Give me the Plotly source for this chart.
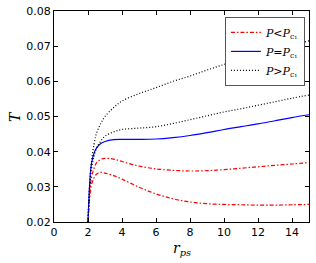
import plotly.graph_objects as go

r_ps = [2.0, 2.1, 2.2, 2.35, 2.5, 2.75, 3.0, 3.5, 4.0, 5.0, 6.0, 7.0, 8.0, 9.0, 10.0, 11.0, 12.0, 13.0, 14.0, 15.0]
T_eq = [0.020, 0.031, 0.0365, 0.0395, 0.0410, 0.0423, 0.0429, 0.0434, 0.0435, 0.0435, 0.0436, 0.0440, 0.0446, 0.0454, 0.0463, 0.0471, 0.0479, 0.0488, 0.0497, 0.0505]
T_gt_high = [0.020, 0.031, 0.037, 0.042, 0.0452, 0.0480, 0.0500, 0.0525, 0.0544, 0.0565, 0.0582, 0.0600, 0.0615, 0.0632, 0.0648, 0.0663, 0.0677, 0.0690, 0.0703, 0.0715]
T_gt_low = [0.020, 0.030, 0.035, 0.0385, 0.0410, 0.0430, 0.0444, 0.0456, 0.0463, 0.0467, 0.0471, 0.0480, 0.0491, 0.0502, 0.0513, 0.0522, 0.0532, 0.0542, 0.0552, 0.0561]
T_lt_high = [0.020, 0.028, 0.0325, 0.0352, 0.0368, 0.0378, 0.0381, 0.0379, 0.0372, 0.0359, 0.0351, 0.0347, 0.0345, 0.0346, 0.0349, 0.0353, 0.0357, 0.0361, 0.0365, 0.0369]
T_lt_low = [0.020, 0.027, 0.0305, 0.0325, 0.0336, 0.0341, 0.0339, 0.0332, 0.0322, 0.0299, 0.0280, 0.0266, 0.0257, 0.0252, 0.0250, 0.0249, 0.0248, 0.0248, 0.0249, 0.0250]

x_ticks = [0, 2, 4, 6, 8, 10, 12, 14]
y_ticks = [0.02, 0.03, 0.04, 0.05, 0.06, 0.07, 0.08]

lbl_lt = "<i>P</i><i>&lt;</i><i>P</i><sub>c₁</sub>"
lbl_eq = "<i>P</i>=<i>P</i><sub>c₁</sub>"
lbl_gt = "<i>P</i><i>&gt;</i><i>P</i><sub>c₁</sub>"

red_dash = "4px,2px,1.5px,2px"
fig = go.Figure()
fig.add_trace(go.Scatter(x=r_ps, y=T_lt_high, mode="lines", line=dict(color="red", width=1.2, dash=red_dash, shape="spline"), name=lbl_lt, legendgroup="lt"))
fig.add_trace(go.Scatter(x=r_ps, y=T_lt_low, mode="lines", line=dict(color="red", width=1.2, dash=red_dash, shape="spline"), name=lbl_lt, legendgroup="lt", showlegend=False))
fig.add_trace(go.Scatter(x=r_ps, y=T_eq, mode="lines", line=dict(color="blue", width=1.2, shape="spline"), name=lbl_eq))
fig.add_trace(go.Scatter(x=r_ps, y=T_gt_high, mode="lines", line=dict(color="black", width=1.2, dash="1px,2px", shape="spline"), name=lbl_gt, legendgroup="gt"))
fig.add_trace(go.Scatter(x=r_ps, y=T_gt_low, mode="lines", line=dict(color="black", width=1.2, dash="1px,2px", shape="spline"), name=lbl_gt, legendgroup="gt", showlegend=False))

axis_common = dict(showgrid=False, zeroline=False, showline=True, linecolor="black", linewidth=1,
                   mirror="ticks", ticks="inside", ticklen=4, tickcolor="black", automargin=False,
                   tickfont=dict(family="DejaVu Sans", size=11, color="black"))
fig.update_xaxes(range=[0, 15], tickvals=x_ticks, ticktext=[str(v) for v in x_ticks], **axis_common)
fig.update_yaxes(range=[0.02, 0.08], tickvals=y_ticks, ticktext=[f"{v:.2f}" for v in y_ticks], **axis_common)

title_font = dict(family="DejaVu Serif", size=14, color="black")
fig.add_annotation(text="<i>r</i><sub><i>ps</i></sub>", xref="paper", yref="paper", x=0.5, y=-0.075,
                   xanchor="center", yanchor="top", showarrow=False, font=title_font)
fig.add_annotation(text="<i>T</i>", xref="paper", yref="paper", x=-0.155, y=0.5,
                   xanchor="center", yanchor="middle", showarrow=False, font=title_font, textangle=-90)

fig.update_layout(width=316, height=263, margin=dict(l=54, r=7, t=11, b=41),
                  plot_bgcolor="white", paper_bgcolor="white",
                  legend=dict(x=0.984, y=0.972, xanchor="right", yanchor="top", bgcolor="white",
                              bordercolor="#555555", borderwidth=1, itemwidth=30, tracegroupgap=0,
                              font=dict(family="DejaVu Serif", size=11, color="black")))
fig.write_html("out.html", config={"displayModeBar": False},
               post_script="document.body.style.margin='0';document.body.style.overflow='hidden';")
